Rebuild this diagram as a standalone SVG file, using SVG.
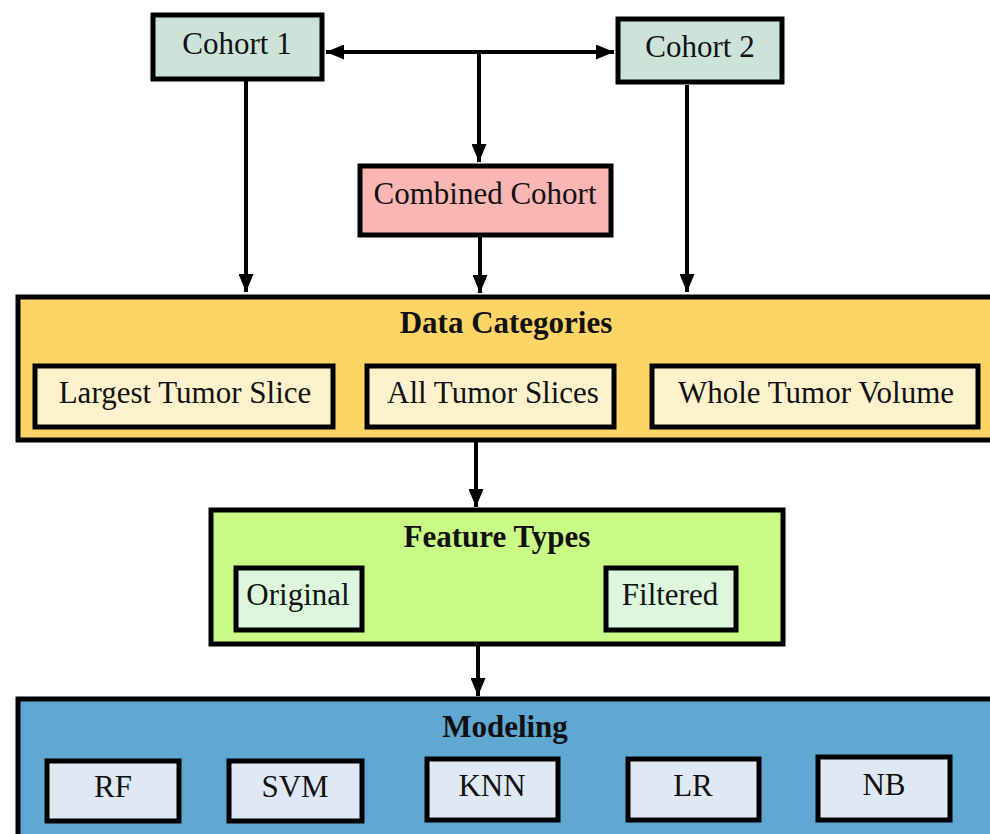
<svg xmlns="http://www.w3.org/2000/svg" width="990" height="834" viewBox="0 0 990 834">
<defs>
<marker id="ah" viewBox="0 0 18 15" markerWidth="18" markerHeight="15" refX="18" refY="7.5" orient="auto-start-reverse" markerUnits="userSpaceOnUse">
<path d="M0,0 L18,7.5 L0,15 z" fill="#000"/>
</marker>
<style>
.box{stroke:#000;stroke-width:5}
.t{font-family:"Liberation Serif","Times New Roman",serif;font-size:31px;fill:#111;text-anchor:middle}
.b{font-weight:bold}
.c{stroke:#000;stroke-width:4;fill:none;marker-end:url(#ah)}
.cohort{fill:#cce3d9}
.comb{fill:#fbb5b3}
.gold{fill:#fdd567}
.goldsub{fill:#fef2cc}
.green{fill:#c8fa85}
.greensub{fill:#dcf7db}
.blue{fill:#5ea8d2}
.bluesub{fill:#dee9f5}
</style>
</defs>
<rect width="990" height="834" fill="#fff"/>
<g id="connectors">
<line class="c" x1="326" y1="52" x2="614" y2="52" style="marker-start:url(#ah)"/>
<line class="c" x1="479" y1="54" x2="479" y2="162"/>
<line class="c" x1="246" y1="81" x2="246" y2="292"/>
<line class="c" x1="687" y1="85" x2="687" y2="292"/>
<line class="c" x1="480" y1="237" x2="480" y2="293"/>
<line class="c" x1="476" y1="442" x2="476" y2="507"/>
<line class="c" x1="478" y1="646" x2="478" y2="696"/>
</g>
<g id="cohort1">
<rect class="box cohort" x="153" y="15" width="169" height="64"/>
<text class="t" x="237" y="54">Cohort 1</text>
</g>
<g id="cohort2">
<rect class="box cohort" x="618" y="19" width="164" height="63"/>
<text class="t" x="700" y="57">Cohort 2</text>
</g>
<g id="combined">
<rect class="box comb" x="360" y="166" width="251" height="69"/>
<text class="t" x="485" y="204">Combined Cohort</text>
</g>
<g id="data-categories">
<rect class="box gold" x="18" y="297" width="990" height="143"/>
<text class="t b" x="506" y="333">Data Categories</text>
<g id="largest-slice">
<rect class="box goldsub" x="35" y="366" width="298" height="61"/>
<text class="t" x="185" y="403">Largest Tumor Slice</text>
</g>
<g id="all-slices">
<rect class="box goldsub" x="367" y="366" width="247" height="61"/>
<text class="t" x="493" y="403">All Tumor Slices</text>
</g>
<g id="whole-volume">
<rect class="box goldsub" x="652" y="366" width="326" height="61"/>
<text class="t" x="816" y="403">Whole Tumor Volume</text>
</g>
</g>
<g id="feature-types">
<rect class="box green" x="211" y="510" width="572" height="134"/>
<text class="t b" x="497" y="547">Feature Types</text>
<g id="original">
<rect class="box greensub" x="236" y="568" width="126" height="62"/>
<text class="t" x="298" y="605">Original</text>
</g>
<g id="filtered">
<rect class="box greensub" x="606" y="568" width="130" height="62"/>
<text class="t" x="670" y="605">Filtered</text>
</g>
</g>
<g id="modeling">
<rect class="box blue" x="18" y="699" width="990" height="160"/>
<text class="t b" x="505" y="737">Modeling</text>
<g id="rf">
<rect class="box bluesub" x="47" y="761" width="132" height="60"/>
<text class="t" x="113" y="797">RF</text>
</g>
<g id="svm">
<rect class="box bluesub" x="229" y="761" width="133" height="60"/>
<text class="t" x="295" y="797">SVM</text>
</g>
<g id="knn">
<rect class="box bluesub" x="427" y="759" width="131" height="61"/>
<text class="t" x="492" y="796">KNN</text>
</g>
<g id="lr">
<rect class="box bluesub" x="628" y="759" width="131" height="61"/>
<text class="t" x="693" y="796">LR</text>
</g>
<g id="nb">
<rect class="box bluesub" x="818" y="757" width="132" height="63"/>
<text class="t" x="884" y="795">NB</text>
</g>
</g>
</svg>
